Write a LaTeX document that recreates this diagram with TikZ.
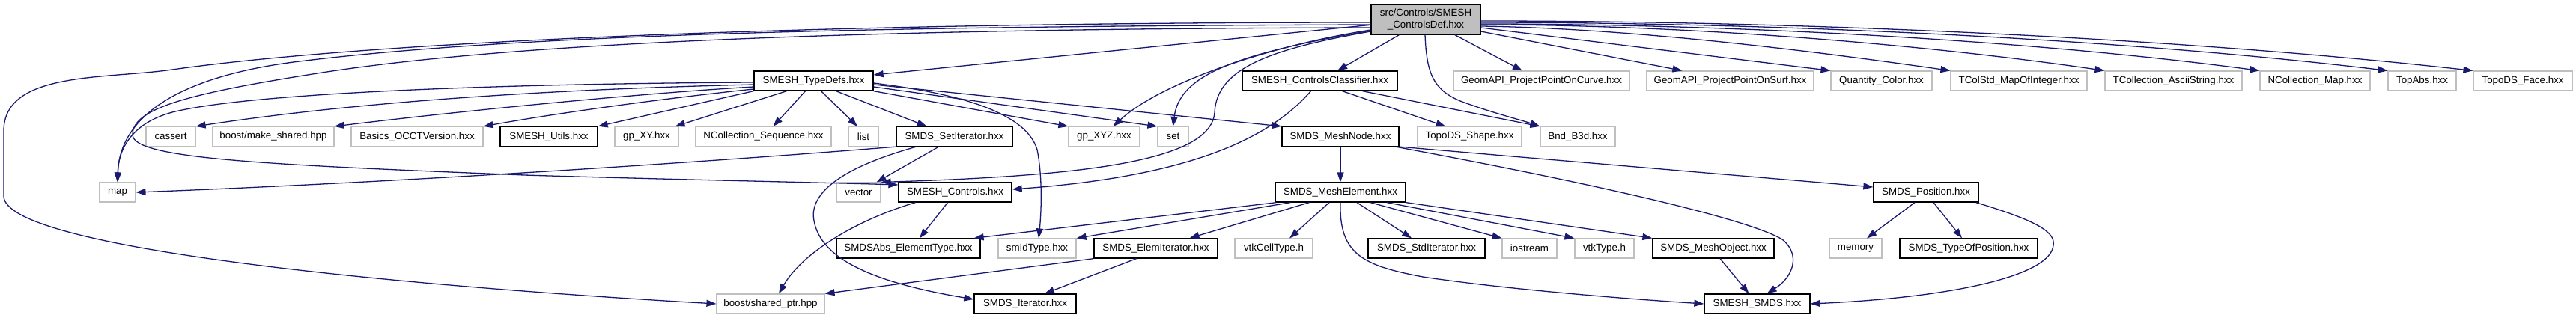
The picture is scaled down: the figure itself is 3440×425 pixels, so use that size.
\documentclass[tikz,border=0pt]{standalone}
\usepackage{fontspec}
\setmainfont{Liberation Sans}
\usetikzlibrary{arrows.meta,calc}
\definecolor{edgec}{HTML}{191970}
\definecolor{gborder}{HTML}{BFBFBF}
\definecolor{mainfill}{HTML}{BFBFBF}
\newcommand\nodefont{\fontsize{13.33}{16}\selectfont}
\tikzset{
  nd/.style={rectangle, minimum height=26pt, inner sep=0pt, font=\nodefont, text=black},
  gnode/.style={nd, draw=gborder, line width=1.1pt},
  bnode/.style={nd, draw=black, line width=1.3pt},
  mainnode/.style={nd, draw=black, fill=mainfill, line width=1.3pt, align=center, minimum height=40pt},
  edg/.style={draw=edgec, line width=1.3pt, -{Triangle[length=13pt,width=9pt]}},
}
\begin{document}
\begin{tikzpicture}[x=1pt,y=-1pt]
\useasboundingbox (0,0) rectangle (3440,425);
% main
\node[mainnode, minimum width=146pt] (M) at (1904,26) {src/Controls/SMESH\\\_ControlsDef.hxx};
% row 1
\node[bnode, minimum width=159pt] (TD) at (1086.5,108) {SMESH\_TypeDefs.hxx};
\node[bnode, minimum width=207pt] (CC) at (1762.5,108) {SMESH\_ControlsClassifier.hxx};
\node[gnode, minimum width=235pt] (GC) at (2058.5,108) {GeomAPI\_ProjectPointOnCurve.hxx};
\node[gnode, minimum width=223pt] (GS) at (2310.5,108) {GeomAPI\_ProjectPointOnSurf.hxx};
\node[gnode, minimum width=135pt] (QC) at (2512.5,108) {Quantity\_Color.hxx};
\node[gnode, minimum width=182pt] (TM) at (2696,108) {TColStd\_MapOfInteger.hxx};
\node[gnode, minimum width=183pt] (TA) at (2902.5,108) {TCollection\_AsciiString.hxx};
\node[gnode, minimum width=147pt] (NM) at (3091.5,108) {NCollection\_Map.hxx};
\node[gnode, minimum width=91pt] (TAb) at (3234.5,108) {TopAbs.hxx};
\node[gnode, minimum width=132pt] (TF) at (3369,108) {TopoDS\_Face.hxx};
% row 2
\node[gnode, minimum width=66pt] (CA) at (228,182.5) {cassert};
\node[gnode, minimum width=162pt] (MS) at (365,182.5) {boost/make\_shared.hpp};
\node[gnode, minimum width=176pt] (BO) at (557,182.5) {Basics\_OCCTVersion.hxx};
\node[bnode, minimum width=130pt] (SU) at (733,182.5) {SMESH\_Utils.hxx};
\node[gnode, minimum width=85pt] (XY) at (863.5,182.5) {gp\_XY.hxx};
\node[gnode, minimum width=181pt] (NS) at (1019.5,182.5) {NCollection\_Sequence.hxx};
\node[gnode, minimum width=40pt] (LI) at (1153,182.5) {list};
\node[bnode, minimum width=155pt] (SI) at (1274.5,182.5) {SMDS\_SetIterator.hxx};
\node[gnode, minimum width=95pt] (XYZ) at (1474.5,182.5) {gp\_XYZ.hxx};
\node[gnode, minimum width=41pt] (SE) at (1566.5,182.5) {set};
\node[bnode, minimum width=156pt] (MN) at (1790,182.5) {SMDS\_MeshNode.hxx};
\node[gnode, minimum width=139pt] (TS) at (1962.5,182.5) {TopoDS\_Shape.hxx};
\node[gnode, minimum width=100pt] (BB) at (2107,182.5) {Bnd\_B3d.hxx};
% row 3
\node[gnode, minimum width=48pt] (MAP) at (157,257) {map};
\node[gnode, minimum width=59pt] (VE) at (1146.5,257) {vector};
\node[bnode, minimum width=151pt] (SC) at (1275.5,257) {SMESH\_Controls.hxx};
\node[bnode, minimum width=174pt] (ME) at (1790,257) {SMDS\_MeshElement.hxx};
\node[bnode, minimum width=140pt] (PO) at (2572,257) {SMDS\_Position.hxx};
% row 4
\node[bnode, minimum width=192pt] (EA) at (1213,332) {SMDSAbs\_ElementType.hxx};
\node[gnode, minimum width=104pt] (SM) at (1385,332) {smIdType.hxx};
\node[bnode, minimum width=165pt] (EI) at (1543.5,332) {SMDS\_ElemIterator.hxx};
\node[gnode, minimum width=104pt] (VC) at (1701,332) {vtkCellType.h};
\node[bnode, minimum width=156pt] (ST) at (1905,332) {SMDS\_StdIterator.hxx};
\node[gnode, minimum width=73pt] (IO) at (2042.5,332) {iostream};
\node[gnode, minimum width=79pt] (VT) at (2142.5,332) {vtkType.h};
\node[bnode, minimum width=162pt] (MO) at (2288,332) {SMDS\_MeshObject.hxx};
\node[gnode, minimum width=70pt] (MEM) at (2478,332) {memory};
\node[bnode, minimum width=184pt] (TP) at (2629,332) {SMDS\_TypeOfPosition.hxx};
% row 5
\node[gnode, minimum width=144pt] (SP) at (1029,406) {boost/shared\_ptr.hpp};
\node[bnode, minimum width=136pt] (IT) at (1369,406) {SMDS\_Iterator.hxx};
\node[bnode, minimum width=141pt] (SS) at (2346.5,406) {SMESH\_SMDS.hxx};

% ---- edges from main
\draw[edg] (M) -- (TD);
\draw[edg] (M) -- (CC);
\draw[edg] (M) -- (GC);
\draw[edg] ($(M.east)+(0,16)$) -- ($(GS.north west)+(48,0)$);
\draw[edg] ($(M.east)+(0,11)$) -- (QC.north west);
\draw[edg] ($(M.east)+(0,9)$) .. controls (2180,38) and (2420,68) .. (TM.north west);
\draw[edg] ($(M.east)+(0,7)$) .. controls (2244,33) and (2561,58) .. (TA.north west);
\draw[edg] ($(M.east)+(0,6)$) .. controls (2310,32) and (2706,53) .. (NM.north west);
\draw[edg] ($(M.east)+(0,4)$) .. controls (2365,30) and (2825,51) .. (TAb.north west);
\draw[edg] ($(M.east)+(0,2)$) .. controls (2401,28) and (2905,50) .. (TF.north west);
\draw[edg] ($(M.west)+(0,4)$) .. controls (1100,30) and (500,55) .. (230,93)
  .. controls (140,106) and (5,95) .. (5,175) -- (5,262)
  .. controls (5,330) and (500,380) .. (SP.west);
\draw[edg] ($(M.west)+(0,7)$) .. controls (1200,35) and (700,45) .. (400,82)
  .. controls (250,100) and (160,150) .. (MAP.north);
\draw[edg] ($(M.west)+(0,11)$) .. controls (1200,38) and (700,55) .. (430,97)
  .. controls (250,125) and (177,145) .. (177,180)
  .. controls (177,212) and (350,220) .. (700,234)
  .. controls (900,240) and (1100,244) .. ($(SC.west)+(0,-10)$);
\draw[edg] ($(M.west)+(0,16)$) .. controls (1700,65) and (1625,90) .. (1622,150)
  .. controls (1618,215) and (1450,235) .. (VE.north east);
\draw[edg] ($(M.west)+(0,14)$) .. controls (1700,60) and (1550,110) .. ($(XYZ.north)+(12,0)$);
\draw[edg] ($(M.west)+(0,15)$) .. controls (1650,72) and (1575,100) .. (SE.north);
\draw[edg] ($(M.south)+(-1,0)$) .. controls (1905,100) and (1915,120) .. (1950,135)
  .. controls (1990,150) and (2030,160) .. (BB.north west);

% ---- SMESH_TypeDefs
\draw[edg] ($(TD.west)+(0,2)$) .. controls (650,112) and (330,125) .. (230,150)
  .. controls (175,165) and (158,200) .. (MAP.north);
\draw[edg] ($(TD.west)+(0,5)$) .. controls (700,120) and (450,140) .. (CA.north east);
\draw[edg] ($(TD.west)+(0,8)$) .. controls (850,125) and (600,150) .. (MS.north east);
\draw[edg] ($(TD.west)+(0,11)$) .. controls (900,130) and (750,150) .. (BO.north east);
\draw[edg] (TD.south west) -- (SU.north east);
\draw[edg] ($(TD.south)+(-36,0)$) -- ($(XY.north east)+(-5,0)$);
\draw[edg] ($(TD.south)+(-11,0)$) -- ($(NS.north)+(13,0)$);
\draw[edg] ($(TD.south)+(10,0)$) -- ($(LI.north)+(-8,0)$);
\draw[edg] ($(TD.south)+(30,0)$) -- ($(SI.north)+(-37,0)$);
\draw[edg] (TD.south east) -- (XYZ.north west);
\draw[edg] ($(TD.east)+(0,8)$) -- (SE.north west);
\draw[edg] ($(TD.east)+(0,5)$) -- (MN.north west);
\draw[edg] ($(TD.east)+(0,3)$) .. controls (1280,125) and (1370,150) .. (1385,200)
  .. controls (1393,240) and (1390,290) .. ($(SM.north)+(2,0)$);

% ---- SMESH_ControlsClassifier
\draw[edg] ($(CC.south)+(-12,0)$) .. controls (1700,180) and (1600,235) .. ($(SC.east)+(0,-4)$);
\draw[edg] ($(CC.south)+(30,0)$) -- ($(TS.north)+(-32,0)$);
\draw[edg] ($(CC.south)+(57,0)$) -- (BB.north west);

% ---- SMDS_SetIterator
\draw[edg] (SI.south west) .. controls (900,220) and (500,245) .. (MAP.east);
\draw[edg] ($(SI.south)+(-21,0)$) -- ($(VE.north east)+(-6,0)$);
\draw[edg] ($(SI.south)+(-51,0)$) .. controls (1120,225) and (1080,260) .. (1087,295)
  .. controls (1095,340) and (1150,375) .. ($(IT.west)+(0,-6)$);

% ---- SMESH_Controls
\draw[edg] ($(SC.south)+(-10,0)$) -- ($(EA.north)+(15,0)$);
\draw[edg] ($(SC.south)+(-53,0)$) .. controls (1140,295) and (1070,340) .. ($(SP.north)+(11,0)$);

% ---- SMDS_ElemIterator
\draw[edg] (EI.south west) -- (SP.north east);
\draw[edg] ($(EI.south)+(-26,0)$) -- ($(IT.north)+(26,0)$);

% ---- SMDS_MeshNode
\draw[edg] (MN) -- (ME);
\draw[edg] (MN.south east) -- ($(PO.west)+(0,-7)$);
\draw[edg] ($(MN.south east)+(-5,0)$) .. controls (2100,240) and (2330,290) .. (2380,320)
  .. controls (2405,340) and (2395,370) .. ($(SS.north)+(13,0)$);

% ---- SMDS_MeshElement
\draw[edg] ($(ME.south west)+(2,0)$) -- ($(EA.north east)+(-9,0)$);
\draw[edg] ($(ME.south west)+(21,0)$) -- (SM.north east);
\draw[edg] ($(ME.south west)+(46,0)$) -- ($(EI.north)+(45,0)$);
\draw[edg] ($(ME.south)+(-15,0)$) -- ($(VC.north)+(21,0)$);
\draw[edg] (ME.south) .. controls (1788,340) and (1820,355) .. (1900,370)
  .. controls (2000,385) and (2150,398) .. (SS.west);
\draw[edg] ($(ME.south)+(22,0)$) -- ($(ST.north)+(-20,0)$);
\draw[edg] ($(ME.south)+(40,0)$) -- (IO.north west);
\draw[edg] ($(ME.south)+(62,0)$) -- (VT.north west);
\draw[edg] (ME.south east) -- (MO.north west);

% ---- SMDS_Position
\draw[edg] ($(PO.south)+(-15,0)$) -- ($(MEM.north)+(15,0)$);
\draw[edg] ($(PO.south)+(10,0)$) -- ($(TP.north)+(-9,0)$);
\draw[edg] ($(PO.south east)+(-4,0)$) .. controls (2720,295) and (2745,310) .. (2742,328)
  .. controls (2738,370) and (2600,398) .. (SS.east);

% ---- SMDS_MeshObject
\draw[edg] ($(MO.south)+(9,0)$) -- ($(SS.north)+(-11,0)$);
\end{tikzpicture}
\end{document}
